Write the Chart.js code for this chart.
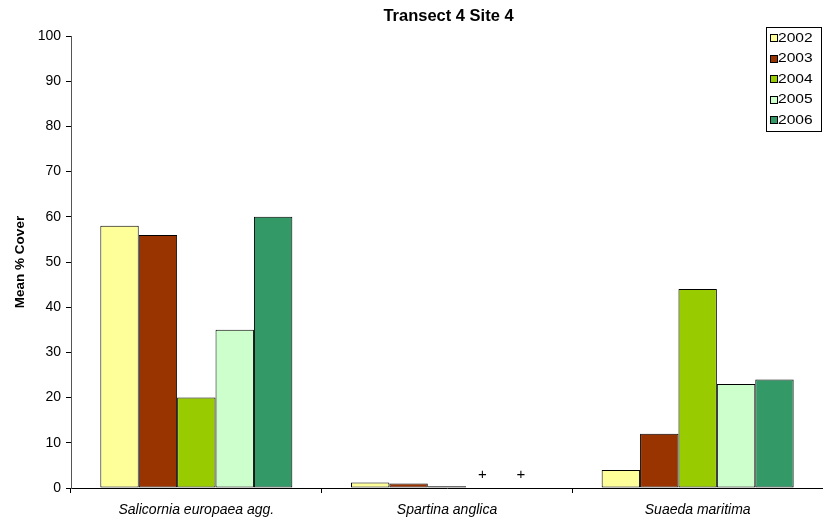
<!DOCTYPE html>
<html>
<head>
<meta charset="utf-8">
<script src="https://cdn.jsdelivr.net/npm/chart.js@4"></script>
<style>
html,body{margin:0;padding:0;background:#fff;}
#wrap{width:823px;height:523px;position:relative;}
</style>
</head>
<body>
<div id="wrap"><canvas id="c" width="823" height="523"></canvas></div>
<script>
const chartTitle = "Transect 4 Site 4";
const yAxisTitle = "Mean % Cover";
const categories = ["Salicornia europaea agg.", "Spartina anglica", "Suaeda maritima"];
const years = ["2002", "2003", "2004", "2005", "2006"];
const v2002 = [58, 1.2, 4];
const v2003 = [56, 1.0, 12];
const v2004 = [20, 0.4, 44];
const v2005 = [35, 0.1, 23];
const v2006 = [60, 0.1, 24];
const traceMarks2005 = ["", "+", ""];
const traceMarks2006 = ["", "+", ""];
const colors = ["#FFFF99", "#993300", "#99CC00", "#CCFFCC", "#339966"];

const seriesValues = [v2002, v2003, v2004, v2005, v2006];
const seriesMarks = [null, null, null, traceMarks2005, traceMarks2006];

const FONT = "Arial, 'Liberation Sans', sans-serif";

const titlePlugin = {
  id: 'customTitle',
  afterDraw(chart) {
    const ctx = chart.ctx, a = chart.chartArea;
    ctx.save();
    ctx.font = "bold 16.5px " + FONT;
    ctx.fillStyle = "#000";
    ctx.textAlign = "center";
    ctx.textBaseline = "middle";
    ctx.fillText(chartTitle, (a.left + a.right + 3) / 2, 16);
    ctx.restore();
  }
};

const marksPlugin = {
  id: 'traceMarks',
  afterDatasetsDraw(chart) {
    const ctx = chart.ctx;
    ctx.save();
    ctx.font = "15px " + FONT;
    ctx.fillStyle = "#000";
    ctx.textAlign = "center";
    ctx.textBaseline = "bottom";
    chart.data.datasets.forEach((ds, i) => {
      const marks = seriesMarks[i];
      if (!marks) return;
      const meta = chart.getDatasetMeta(i);
      meta.data.forEach((bar, j) => {
        if (marks[j]) ctx.fillText(marks[j], bar.x - 3, bar.y - 5);
      });
    });
    ctx.restore();
  }
};

const legendPlugin = {
  id: 'boxLegend',
  afterDraw(chart) {
    const ctx = chart.ctx;
    const x0 = 766, y0 = 27, w = 55, h = 104, rowH = 20.6;
    ctx.save();
    ctx.fillStyle = "#fff";
    ctx.fillRect(x0, y0, w, h);
    ctx.strokeStyle = "#000";
    ctx.lineWidth = 1;
    ctx.strokeRect(x0 + 0.5, y0 + 0.5, w, h);
    ctx.font = "13px " + FONT;
    ctx.textBaseline = "middle";
    ctx.textAlign = "left";
    chart.data.datasets.forEach((ds, i) => {
      const cy = y0 + 11 + i * rowH;
      ctx.fillStyle = ds.backgroundColor;
      ctx.fillRect(x0 + 4.5, Math.round(cy) - 3.5, 7, 7);
      ctx.strokeStyle = "#000";
      ctx.strokeRect(x0 + 4.5, Math.round(cy) - 3.5, 7, 7);
      ctx.fillStyle = "#000";
      ctx.save();
      ctx.translate(x0 + 12, cy);
      ctx.scale(1.2, 1);
      ctx.fillText(ds.label, 0, 0);
      ctx.restore();
    });
    ctx.restore();
  }
};

new Chart(document.getElementById('c'), {
  type: 'bar',
  data: {
    labels: categories,
    datasets: years.map((y, i) => ({
      label: y,
      data: seriesValues[i],
      backgroundColor: colors[i],
      borderColor: "#000",
      borderWidth: 1,
      borderSkipped: false,
      barPercentage: 1.0,
      categoryPercentage: 0.766
    }))
  },
  options: {
    responsive: false,
    animation: false,
    devicePixelRatio: 1,
    layout: { padding: { top: 36, right: 0, left: 12, bottom: 0 } },
    plugins: {
      legend: { display: false },
      title: { display: false },
      tooltip: { enabled: false }
    },
    scales: {
      x: {
        offset: true,
        grid: { offset: true, drawOnChartArea: false, drawTicks: true, tickLength: 5, color: "#000" },
        border: { display: true, color: "#000", width: 1 },
        ticks: { font: { family: FONT, size: 14, style: 'italic' }, color: "#000", padding: 9, maxRotation: 0 },
        afterFit(scale) { scale.height = 35; }
      },
      y: {
        min: 0, max: 100,
        grid: { drawOnChartArea: false, drawTicks: true, tickLength: 5, color: "#000" },
        border: { display: true, color: "#555", width: 1 },
        ticks: { stepSize: 10, font: { family: FONT, size: 14 }, color: "#000", padding: 5 },
        title: { display: true, text: yAxisTitle, font: { family: FONT, size: 13.5, weight: 'bold' }, color: "#000", padding: { top: 0, bottom: 4 } },
        afterFit(scale) { scale.width = 59; }
      }
    }
  },
  plugins: [titlePlugin, marksPlugin, legendPlugin]
});
</script>
</body>
</html>
